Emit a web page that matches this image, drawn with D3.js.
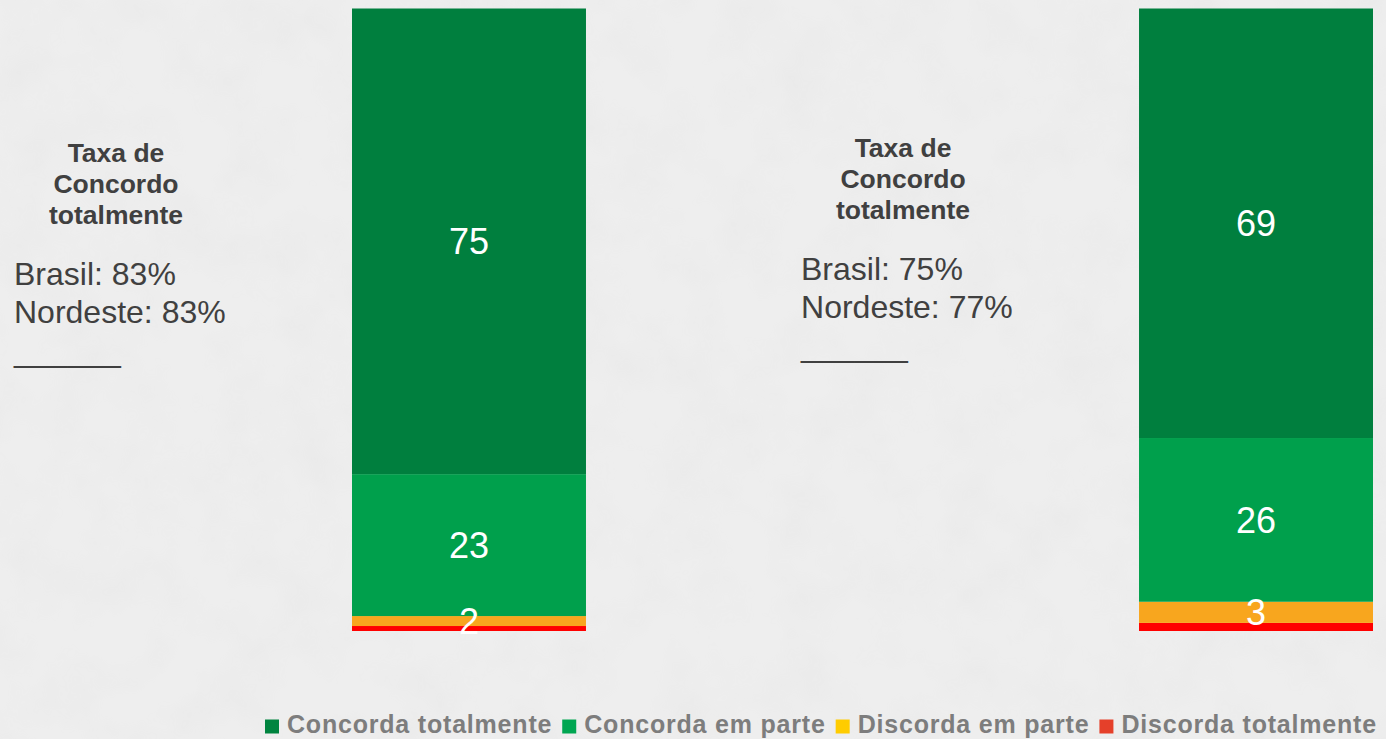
<!DOCTYPE html>
<html>
<head>
<meta charset="utf-8">
<script src="https://cdn.jsdelivr.net/npm/d3@7"></script>
<style>
  html, body { margin: 0; padding: 0; background: #ececec; }
  svg { display: block; }
</style>
</head>
<body>
<script>
// two questions, one stacked bar each
const bars = ['q1', 'q2'];
const series = ['Concorda totalmente', 'Concorda em parte', 'Discorda em parte', 'Discorda totalmente'];
const concordaTotalmente = [74.8, 69.0];
const concordaEmParte = [22.8, 26.3];
const discordaEmParte = [1.6, 3.4];
const discordaTotalmente = [0.8, 1.3];

// side notes
const brasilTaxa = [83, 75];
const nordesteTaxa = [83, 77];

const barColors = ['#007f3e', '#00a04c', '#f8a61e', '#ff0000'];
const legendColors = ['#00843f', '#00a651', '#ffcc00', '#e5402a'];

const W = 1386, H = 739;
const font = '"Liberation Sans", Arial, sans-serif';

const svg = d3.select('body').append('svg')
    .attr('width', W)
    .attr('height', H);

// paper-like background
const defs = svg.append('defs');
const f = defs.append('filter').attr('id', 'paper')
    .attr('x', 0).attr('y', 0).attr('width', '100%').attr('height', '100%');
f.append('feTurbulence').attr('type', 'fractalNoise')
    .attr('baseFrequency', 0.018).attr('numOctaves', 4).attr('seed', 3);
f.append('feColorMatrix').attr('type', 'matrix')
    .attr('values', '0 0 0 0 0.5  0 0 0 0 0.5  0 0 0 0 0.5  0 0 0 0.9 -0.35');
svg.append('rect').attr('width', W).attr('height', H).attr('fill', '#eeeeee');
svg.append('rect').attr('width', W).attr('height', H).attr('filter', 'url(#paper)').attr('opacity', 0.14);

const x = d3.scaleBand().domain(bars).range([352, 1373]).paddingInner(0.7027).paddingOuter(0);
const y = d3.scaleLinear().domain([0, 100]).range([631, 8.5]);

const rows = bars.map((b, i) => ({
  bar: b,
  'Concorda totalmente': concordaTotalmente[i],
  'Concorda em parte': concordaEmParte[i],
  'Discorda em parte': discordaEmParte[i],
  'Discorda totalmente': discordaTotalmente[i]
}));

// stack from the bottom: red at the bottom, dark green on top
const stackOrder = series.slice().reverse();
const stacked = d3.stack().keys(stackOrder)(rows);

const layers = svg.append('g').selectAll('g')
    .data(stacked)
    .join('g')
    .attr('fill', d => barColors[series.indexOf(d.key)]);

layers.selectAll('rect')
    .data(d => d)
    .join('rect')
    .attr('x', d => x(d.data.bar))
    .attr('width', x.bandwidth())
    .attr('y', d => y(d[1]))
    .attr('height', d => y(d[0]) - y(d[1]));

// value labels, drawn above every segment
const labels = svg.append('g')
    .attr('fill', '#ffffff')
    .attr('font-family', font)
    .attr('font-size', 36)
    .attr('text-anchor', 'middle');
labels.selectAll('text')
    .data(stacked.flat().filter(s => s[1] - s[0] >= 1.5))
    .join('text')
    .attr('x', d => x(d.data.bar) + x.bandwidth() / 2)
    .attr('y', d => y((d[0] + d[1]) / 2))
    .attr('dy', '0.36em')
    .text(d => Math.round(d[1] - d[0]));

// notes beside each bar
const yShift = [0, -5];
bars.forEach((b, i) => {
  const bx = x(b);
  const g = svg.append('g').attr('fill', '#404040')
      .attr('font-family', font);
  const title = g.append('text')
      .attr('text-anchor', 'middle')
      .attr('font-weight', 'bold')
      .attr('font-size', 26.5);
  ['Taxa de', 'Concordo', 'totalmente'].forEach((t, k) => {
    title.append('tspan')
        .attr('x', bx - 236)
        .attr('y', 162 + yShift[i] + k * 31)
        .text(t);
  });
  const body = g.append('text').attr('font-size', 32);
  body.append('tspan').attr('x', bx - 338).attr('y', 285 + yShift[i])
      .text('Brasil: ' + brasilTaxa[i] + '%');
  body.append('tspan').attr('x', bx - 338).attr('y', 323 + yShift[i])
      .text('Nordeste: ' + nordesteTaxa[i] + '%');
  body.append('tspan').attr('x', bx - 338).attr('y', 362 + yShift[i])
      .text('______');
});

// legend
const legend = svg.append('g').attr('font-family', font);
let lx = 265;
series.forEach((s, i) => {
  legend.append('rect')
      .attr('x', lx).attr('y', 719.5)
      .attr('width', 14).attr('height', 14)
      .attr('fill', legendColors[i]);
  const t = legend.append('text')
      .attr('x', lx + 22).attr('y', 733)
      .attr('font-size', 25)
      .attr('font-weight', 'bold')
      .attr('letter-spacing', 0.8)
      .attr('fill', '#7d7d7d')
      .text(s);
  lx += 22 + t.node().getComputedTextLength() + 10;
});
</script>
</body>
</html>
